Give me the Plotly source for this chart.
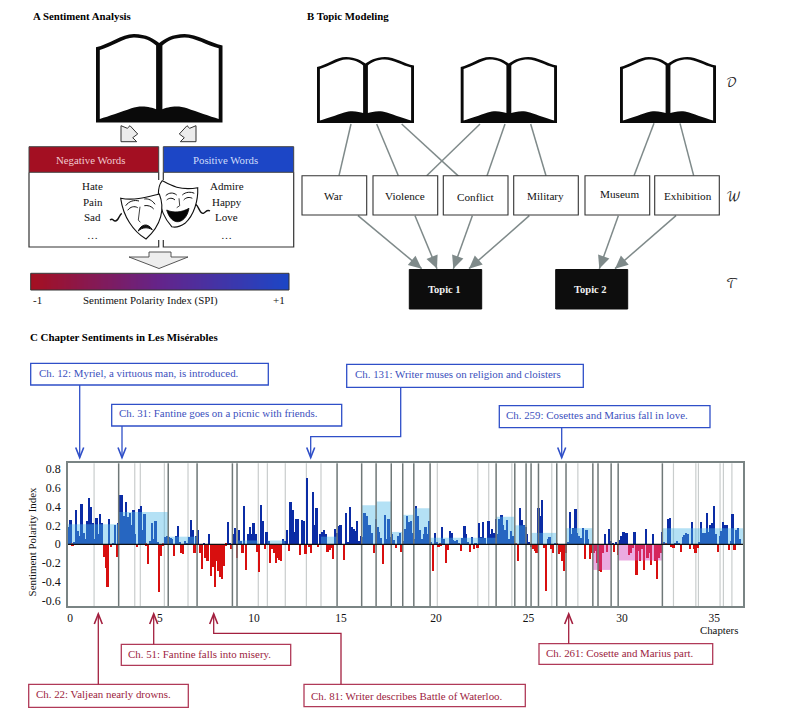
import numpy as np
import plotly.graph_objects as go

# ---------- data (chart C) ----------
spi_part1 = [0.18,0.25,-0.02,0.02,0.36,0.14,0.08,0.42,0.12,0.05,0.24,0.48,0.39,0.22,0.05,0.27,0.11,0.32,0.22,-0.14,-0.25,-0.45,0.26,-0.03,0.01,0.2,-0.14,0.22,
 0.52,0.52,0.29,0.44,0.28,0.33,0.2,0.36,0.1,-0.03,0.37,0.4,0.15,0.32,-0.02,-0.21,0.03,0.22,0.05,0.24,0.02,-0.51,-0.13,-0.02,0.07,0.08,0.07,0.06,0.05,-0.13,0.08,0.19,0.02,-0.09,-0.11,0.03,0.01,0.07,0.25,0.15,-0.09,0.08,0.15,-0.1,-0.26,0.01,-0.15,-0.18,0.1,-0.34,-0.24,-0.45,-0.18,-0.28,-0.35,-0.37,-0.23,-0.02,0.23,0.01,-0.05,0.1,0.17,-0.15,0.15,0.03,-0.09,0.4,-0.27,0.1,0.18,0.1,0.22,0.1,-0.08,-0.3,0.41,0.24]
spi_part2 = [-0.05,0.13,0.03,-0.2,-0.05,-0.1,-0.2,-0.15,-0.17,-0.18,0.05,0.03,0.15,-0.07,0.44,0.36,0.13,0.26,0.26,-0.12,0.25,0.24,-0.11,0.7,-0.03,-0.1,0.55,0.2,0.38,-0.03,0.1,0.13,0.15,0.1,-0.08,-0.06,-0.04,-0.16,0.16,0.12,0.19,0.2,0.0,-0.17,0.33,0.02,0.39,0.18,0.16,0.14,0.24,0.03,0.08,0.07,0.33,0.29,0.2,0.2,0.12,-0.1,0.26,0.18,0.13,0.06,-0.21,0.31,0.05,0.26,0.07,0.1,0.04,-0.04,0.08,0.12,-0.08,0.03,0.16,0.3,0.23,0.24,0.12,0.05,0.4,0.3,0.15,0.05,0.1,0.18,0.11,0.24,0.02,-0.28,0.12,0.02,-0.03,-0.02,0.18,0.05,-0.2,-0.06,0.14,0.12,0.04,0.03,0.04,0.01,-0.07,0.06,0.19,0.1,0.02,-0.08,0.07,-0.05,0.01,-0.04,0.22,0.07,0.23,0.06,0.0,0.24,0.1,0.16,0.12,0.26,0.1,0.26,0.31,0.2,0.15,0.25,0.05]
spi_part3 = [0.14,0.08,0.03,-0.01,-0.18,0.38,0.25,0.2,0.18,0.1,0.02,-0.03,-0.05,-0.07,-0.1,0.38,0.3,0.46,-0.04,-0.5,0.05,0.07,-0.05,-0.09,0.01,-0.01,-0.11,-0.08,-0.18,-0.28,-0.1,0.02,0.34,0.1,0.17,0.37,0.12,0.08,0.06,0.17,-0.16,0.15,0.05,-0.16,-0.1,-0.1,-0.07,-0.2,-0.28,-0.3,-0.1,0.11,-0.08,0.16,0.03,0.01,-0.08,0.02,-0.12,0.04,0.08,0.13,0.12,0.12,-0.12,-0.1,-0.04,0.13,-0.33,-0.07,-0.18,-0.05,-0.27,0.16,-0.15,-0.1,-0.22,0.1,-0.18,-0.37,-0.15,-0.1,0.13,0.02,-0.01,0.26,0.27,-0.03,-0.04,0.01,0.03,0.01,-0.08,0.07,0.09,0.12,0.1,-0.05,0.23,-0.05,-0.1,-0.04,0.02,0.23,0.12,0.12,0.33,0.13,0.2,0.22,0.4,0.1,-0.08,0.08,0.14,0.23,0.2,0.2,-0.06,0.03,0.32,-0.06,0.15,0.17,0.05]
spi = spi_part1 + spi_part2 + spi_part3
chapter_pos = [i / 10 + 0.05 for i in range(len(spi))]

x_tick_pos = [0.11, 4.97, 10.06, 14.76, 19.9, 24.9, 29.96, 34.94]
x_labels = ["0", "5", "10", "15", "20", "25", "30", "35"]
y_ticks = [0.8, 0.6, 0.4, 0.2, 0, -0.2, -0.4, -0.6]
y_labels = ["0.8", "0.6", "0.4", "0.2", "0", "-0.2", "-0.4", "-0.6"]

dark_breaks = [2.74,5.42,6.98,8.89,9.14,14.55,15.88,16.66,17.48,18.10,18.70,19.58,23.15,24.16,24.77,25.04,25.44,26.43,26.93,28.38,28.66,29.37,29.75,32.14]
light_breaks = [1.41,3.61,3.91,5.21,6.49,10.29,10.78,11.75,12.89,13.68,19.97,22.16,22.75,24.0,26.16,27.57,32.74,33.95,34.09,35.26,35.44,35.9]

pos_spans = [(0,2.74,0.21),(2.74,5.42,0.34),(5.42,6.98,0.08),(9.14,10.29,0.04),(10.78,11.75,0.04),(13.68,14.55,0.08),
             (15.88,16.66,0.41),(16.66,17.48,0.45),(17.48,18.10,0.13),(18.10,18.70,0.31),(18.70,19.58,0.38),(19.58,23.15,0.07),
             (23.15,24.16,0.29),(24.16,24.77,0.2),(25.04,26.43,0.12),(26.93,28.38,0.17),(32.14,36.5,0.17)]
neg_spans = [(28.38,29.37,-0.27),(29.75,32.14,-0.17)]

notes_blue = [("Ch. 12: Myriel, a virtuous man, is introduced.",30.7,268.3,363.3,385,37.7,373.3),
              ("Ch. 31: Fantine goes on a picnic with friends.",111.7,341.7,404.3,426,117.7,413.3),
              ("Ch. 131: Writer muses on religion and cloisters",346.7,583.3,364.3,387.3,353.7,374.3),
              ("Ch. 259: Cosettes and Marius fall in love.",499.3,710,405.7,427.7,505,415)]
notes_red = [("Ch. 22: Valjean nearly drowns.",28.7,188.3,684.3,707.3,34.7,694.3),
             ("Ch. 51: Fantine falls into misery.",121.3,290.7,644.3,665.3,127,654),
             ("Ch. 81: Writer describes Battle of Waterloo.",304,525.3,684.3,706.7,309.7,695.5),
             ("Ch. 261: Cosette and Marius part.",539,712.7,643.7,664.3,544.7,653)]

neg_words = ["Hate", "Pain", "Sad", "…"]
pos_words = ["Admire", "Happy", "Love", "…"]
word_y = [186, 202, 217, 235]
topic_words = [("War",302,366.7,333.3,195.7),("Violence",373,437.7,404.7,195.7),("Conflict",443.3,508,476,197),
               ("Military",513.7,578.3,545.3,195.7),("Museum",585,649.7,619,194.3),("Exhibition",654.7,719.3,687.7,195.7)]
topics = [("Topic 1",409.3,481.7,444,289.3),("Topic 2",555.7,627.7,590,289.3)]

FONT = "Liberation Serif"
BLUE, RED = "#2f4fc8", "#a3203f"
TXT_BLUE, TXT_RED = "#3b50bd", "#9c2340"
EDGE = "#7f8a8a"

shapes, notes = [], []

def txt(s, x, y, size=11, color="#111", anchor="center", bold=False, angle=0, family=FONT):
    notes.append(dict(text=f"<b>{s}</b>" if bold else s, x=x, y=y, xref="x2", yref="y2", showarrow=False,
                      xanchor=anchor, yanchor="middle", borderpad=0, textangle=angle,
                      font=dict(family=family, size=size, color=color)))

def path(d, fill=None, line="#000", w=1.0):
    s = dict(type="path", path=d, xref="x2", yref="y2", layer="above", line=dict(color=line, width=w))
    if fill:
        s["fillcolor"] = fill
    else:
        s["fillcolor"] = "rgba(0,0,0,0)"
    if line is None:
        s["line"] = dict(width=0)
    shapes.append(s)

def rect(x0, x1, y0, y1, fill="white", line="#222", w=1.0):
    shapes.append(dict(type="rect", x0=x0, x1=x1, y0=y0, y1=y1, xref="x2", yref="y2", layer="above",
                       fillcolor=fill, line=dict(color=line, width=w)))

def seg(x0, y0, x1, y1, color=EDGE, w=1.5):
    path(f"M{x0},{y0} L{x1},{y1}", None, color, w)

def book(x, y, w, h):
    def tr(s):
        out = []
        for tok in s.split():
            c = tok[0] if tok[0].isalpha() else ""
            t = tok[1:] if c else tok
            if t:
                a, b = t.split(",")
                out.append(f"{c}{x + float(a) * w:.1f},{y + float(b) * h:.1f}")
            else:
                out.append(c)
        return " ".join(out)
    path(tr("M0,.15 C.1,.12 .2,0 .3,0 C.4,0 .46,.06 .5,.1 C.54,.06 .6,0 .7,0 C.8,0 .9,.1 1,.13 L1,1 L0,1 Z"), "#0a0a0a", None)
    path(tr("M.03,.18 C.12,.15 .22,.04 .3,.04 C.38,.04 .44,.08 .475,.13 L.475,.85 C.44,.83 .36,.8 .28,.84 C.2,.88 .1,.93 .03,.96 Z"), "white", None)
    path(tr("M.97,.16 C.88,.13 .78,.04 .7,.04 C.62,.04 .56,.08 .525,.13 L.525,.85 C.56,.83 .64,.8 .72,.84 C.8,.88 .9,.93 .97,.96 Z"), "white", None)

def head(x0, y0, x1, y1, L=13, W=12, color=EDGE):
    dx, dy = x1 - x0, y1 - y0
    n = (dx * dx + dy * dy) ** .5
    ux, uy = dx / n, dy / n
    bx, by = x1 - ux * L, y1 - uy * L
    px, py = -uy, ux
    path(f"M{x1:.1f},{y1:.1f} L{bx + px * W / 2:.1f},{by + py * W / 2:.1f} L{bx - px * W / 2:.1f},{by - py * W / 2:.1f} Z", color, None)

def vee(x, y, up, color):
    s = 10 if up else -10
    path(f"M{x - 4},{y + s} L{x},{y} L{x + 4},{y + s}", None, color, 1.6)

# ---------- panel A ----------
txt("A Sentiment Analysis", 31.5, 15.5, 10.8, "#000", "left", True)
book(96, 34, 126.5, 88.5)
def z9(points, fill="#ececec"):
    d = "M" + " L".join(f"{110 + a / 3:.1f},{120 + b / 3:.1f}" for a, b in points) + " Z"
    path(d, fill, "#333", 1)
z9([(33,17),(52,25),(60,17),(83,42),(68,53),(80,65),(33,65)])
z9([(258,17),(239,25),(231,17),(208,42),(223,53),(211,65),(258,65)])
rect(29, 158.7, 146.7, 172.3, "#a30f22", "#444", 1)
rect(163.3, 293.7, 146.7, 172.3, "#1c46c6", "#444", 1)
path("M158.7,172.3 L158.7,180 M158.7,240 L158.7,247 L29,247 L29,172.3", None, "#333", 1.2)
path("M163.3,172.3 L163.3,180 M163.3,240 L163.3,247 L293.7,247 L293.7,172.3", None, "#333", 1.2)
txt("Negative Words", 90, 160, 10.8, "#f2c9cf")
txt("Positive Words", 225, 160, 10.8, "#cfdcfa")
for w, y in zip(neg_words, word_y):
    txt(w, 92.7, y, 11)
for w, y in zip(pos_words, word_y):
    txt(w, 226.7, y, 11)

def z8(d):
    out = []
    for tok in d.split():
        c = tok[0] if tok[0].isalpha() else ""
        t = tok[1:] if c else tok
        if t:
            a, b = t.split(",")
            out.append(f"{c}{105 + float(a) / 3:.1f},{175 + float(b) / 3:.1f}")
        else:
            out.append(c)
    return " ".join(out)
# ribbons
path(z8("M50,115 C42,120 40,140 30,138 C22,136 24,128 15,135"), None, "#111", 1.4)
path(z8("M272,88 C282,95 285,118 295,115 C303,112 305,102 315,108"), None, "#111", 1.4)
# happy mask
path(z8("M172,17 C195,30 225,48 278,38 C280,75 268,120 240,145 C225,155 210,158 200,155 C182,135 165,100 160,60 C160,40 165,25 172,17 Z"), "white", "#111", 1.1)
path(z8("M182,62 C192,52 205,52 215,60 M232,60 C242,50 258,50 268,55"), None, "#111", 1.0)
path(z8("M185,75 C192,68 203,68 210,75 M236,75 C244,66 254,66 262,70"), None, "#111", 1.0)
path(z8("M222,70 L224,92 L215,98"), None, "#111", 0.8)
path(z8("M185,105 C205,115 232,112 252,100 C248,125 232,142 215,140 C200,138 190,122 185,105 Z"), "#050505", "#050505", 0.8)
# sad mask
path(z8("M47,70 C90,78 130,65 163,57 C180,100 170,150 123,192 C85,170 55,125 47,70 Z"), "white", "#111", 1.1)
path(z8("M62,92 C72,78 88,74 102,78 M118,72 C130,70 142,76 150,88"), None, "#111", 1.0)
path(z8("M68,106 C76,95 88,92 98,98 M118,92 C128,90 140,94 146,102"), None, "#111", 1.0)
path(z8("M105,95 L100,135 L106,142"), None, "#111", 0.8)
path(z8("M100,168 C108,148 128,142 142,164 C128,156 112,156 100,168 Z"), "#111", "#111", 1.0)

path("M149,252 L171,252 L171,257 L188,257 L159,268.5 L129,257 L149,257 Z", "#eeeeee", "#444", 0.9)
rect(30.7, 289, 273.3, 290, "rgba(0,0,0,0)", "#333", 1)
txt("-1", 37, 300, 11)
txt("Sentiment Polarity Index (SPI)", 150.7, 300, 10.9)
txt("+1", 278.7, 300, 11)

# ---------- panel B ----------
txt("B Topic Modeling", 306.2, 15.5, 10.8, "#000", "left", True)
def zb(zx, zy):
    return 290 + zx / 3, zy / 3
for a, b, c, d in [(183,372,147,527),(260,372,325,527),(335,372,507,530),(570,372,410,527),(645,372,590,530),(722,372,768,527),(1092,370,1032,527),(1170,370,1211,527)]:
    seg(*zb(a, b), *zb(c, d))
for x, w in [(317, 97), (460.7, 96.3), (620, 96)]:
    book(x, 57, w, 66)
for a, b, c, d in [(204,647,395,806),(375,647,441,806),(547,647,490,806),(718,647,537,806),(985,647,928,806),(1158,647,975,806)]:
    x0, y0 = zb(a, b); x1, y1 = zb(c, d)
    seg(x0, y0, x1, y1)
    head(x0, y0, x1, y1)
for w, x0, x1, cx, cy in topic_words:
    rect(x0, x1, 175.8, 215, "white", "#333", 1.1)
    txt(w, cx, cy, 11.2)
for t, x0, x1, cx, cy in topics:
    rect(x0, x1, 269.5, 309, "#0d0d0d", "#0d0d0d", 1)
    txt(t, cx, cy, 10.5, "#f2f2f2", bold=True)
SCRIPT = "DejaVu Math TeX Gyre, DejaVu Sans"
txt("𝒟", 731.7, 82.7, 12, "#222", family=SCRIPT)
txt("𝒲", 733, 196.7, 12, "#222", family=SCRIPT)
txt("𝒯", 731.7, 284, 12, "#222", family=SCRIPT)

# ---------- panel C annotations ----------
txt("C Chapter Sentiments in Les Misérables", 29, 336.7, 10.9, "#000", "left", True)
for s, x0, x1, y0, y1, tx, ty in notes_blue:
    rect(x0, x1, y0, y1, "white", BLUE, 1.3)
    txt(s, tx, ty, 10.9, TXT_BLUE, "left")
for s, x0, x1, y0, y1, tx, ty in notes_red:
    rect(x0, x1, y0, y1, "white", "#b03a58", 1.3)
    txt(s, tx, ty, 10.9, TXT_RED, "left")
for x, y0 in [(79.7, 385), (122, 426), (561.7, 427.7)]:
    seg(x, y0, x, 457.5, BLUE, 1.3)
    vee(x, 457.5, False, BLUE)
path("M400.7,387.3 L400.7,436.7 L310.7,436.7 L310.7,457.5", None, BLUE, 1.3)
vee(310.7, 457.5, False, BLUE)
for x, y0 in [(98.3, 684.3), (153.7, 644.3), (568.7, 643.7)]:
    seg(x, y0, x, 614, RED, 1.3)
    vee(x, 614, True, RED)
path("M341,684.3 L341,633.3 L213.7,633.3 L213.7,614", None, RED, 1.3)
vee(213.7, 614, True, RED)
txt("Chapters", 719, 629.6, 10.8)
txt("Sentiment Polarity Index", 31.7, 541.7, 10.9, "#111", angle=-90)

# chart-scale shapes
for v in light_breaks:
    shapes.append(dict(type="line", x0=v, x1=v, y0=0, y1=1, xref="x", yref="y domain", layer="below",
                       line=dict(color="#c9cdcd", width=1.2)))
for a, b, h in pos_spans:
    shapes.append(dict(type="rect", x0=a, x1=b, y0=0, y1=h, xref="x", yref="y", layer="above",
                       fillcolor="rgba(76,183,231,0.42)", line=dict(width=0)))
for a, b, h in neg_spans:
    shapes.append(dict(type="rect", x0=a, x1=b, y0=0, y1=h, xref="x", yref="y", layer="above",
                       fillcolor="rgba(211,67,189,0.45)", line=dict(width=0)))
for v in dark_breaks:
    shapes.append(dict(type="line", x0=v, x1=v, y0=0, y1=1, xref="x", yref="y domain", layer="above",
                       line=dict(color="#6f7878", width=1.5)))
shapes.append(dict(type="line", x0=0, x1=36.5, y0=0, y1=0, xref="x", yref="y", layer="above",
                   line=dict(color="#111", width=1.2)))

# ---------- figure ----------
W, H = 796, 716
fig = go.Figure()
fig.add_trace(go.Bar(x=chapter_pos, y=spi, width=0.095, showlegend=False,
                     marker=dict(color=["#0b2ca5" if v >= 0 else "#d80f0f" for v in spi], line=dict(width=0))))
fig.add_trace(go.Scatter(x=[], y=[], xaxis="x2", yaxis="y2", showlegend=False))
scale = np.linspace(-1, 1, 120)
fig.add_trace(go.Heatmap(z=[scale.tolist()], x=scale.tolist(), xaxis="x3", yaxis="y3", showscale=False,
                         colorscale=[[0, "#a50f20"], [0.5, "#64248a"], [1, "#1c46c6"]], zmin=-1, zmax=1, hoverinfo="skip"))
fig.update_layout(
    width=W, height=H, margin=dict(l=0, r=0, t=0, b=0, pad=0, autoexpand=False), paper_bgcolor="white", plot_bgcolor="rgba(0,0,0,0)",
    showlegend=False, bargap=0, shapes=shapes, annotations=notes,
    font=dict(family=FONT, color="#111"),
    xaxis=dict(domain=[68 / W, 743 / W], range=[0, 36.5], tickvals=x_tick_pos, ticktext=x_labels,
               showgrid=False, zeroline=False, showline=True, mirror=True, linecolor="#7a8484", linewidth=1.5,
               ticks="", tickfont=dict(family=FONT, size=11.5, color="#111"), anchor="y"),
    yaxis=dict(domain=[1 - 606 / H, 1 - 463.3 / H], range=[-0.65, 0.853], tickvals=y_ticks, ticktext=y_labels,
               showgrid=False, zeroline=False, showline=True, mirror=True, linecolor="#7a8484", linewidth=1.5,
               ticks="outside", ticklen=3, tickcolor="rgba(0,0,0,0)", tickfont=dict(family=FONT, size=12, color="#111"), anchor="x"),
    xaxis2=dict(domain=[0, 1], range=[0, W], visible=False, anchor="y2", fixedrange=True),
    yaxis2=dict(domain=[0, 1], range=[H, 0], visible=False, anchor="x2", fixedrange=True),
    xaxis3=dict(domain=[30.7 / W, 289 / W], visible=False, anchor="y3", range=[-1, 1]),
    yaxis3=dict(domain=[1 - 290 / H, 1 - 273.3 / H], visible=False, anchor="x3"),
)
fig.write_html("out.html", config=dict(displayModeBar=False),
               post_script="document.body.style.margin='0';document.documentElement.style.overflow='hidden';")
